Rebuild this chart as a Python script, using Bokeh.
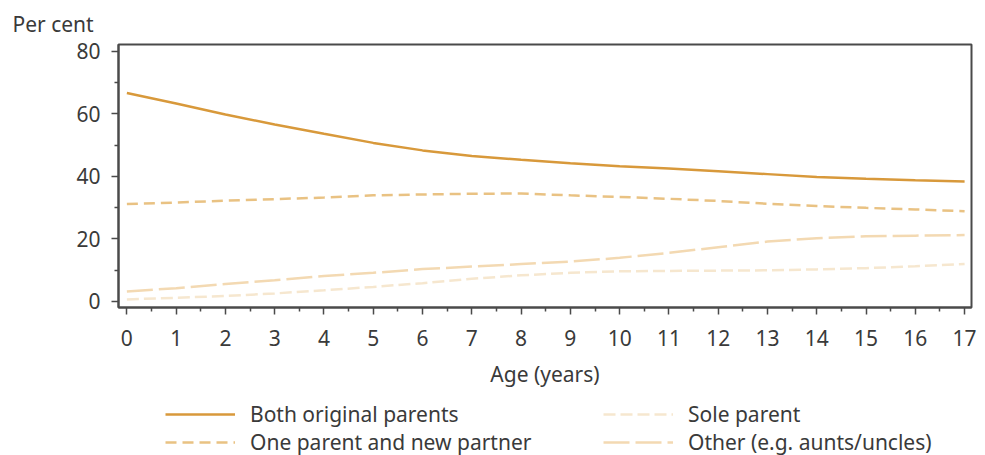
from bokeh.plotting import figure
from bokeh.models import Range1d, FixedTicker, Legend, LegendItem
from bokeh.layouts import column
from bokeh.embed import file_html
from bokeh.resources import INLINE

# ---- data ----
ages = list(range(0, 18))
both_original = [66.7, 63.3, 59.8, 56.6, 53.6, 50.7, 48.3, 46.5, 45.3, 44.2, 43.2, 42.5, 41.6, 40.7, 39.8, 39.2, 38.7, 38.3]
one_parent_new_partner = [31.1, 31.6, 32.2, 32.7, 33.2, 33.9, 34.2, 34.4, 34.5, 33.9, 33.4, 32.8, 32.1, 31.2, 30.5, 29.9, 29.4, 28.8]
sole_parent = [0.6, 1.1, 1.7, 2.5, 3.5, 4.6, 5.8, 7.2, 8.3, 9.1, 9.6, 9.7, 9.8, 9.9, 10.2, 10.6, 11.2, 11.9]
other = [3.1, 4.2, 5.5, 6.7, 8.1, 9.1, 10.3, 11.1, 11.9, 12.7, 13.9, 15.5, 17.3, 19.1, 20.2, 20.8, 21.0, 21.2]
y_ticks = [0, 20, 40, 60, 80]
y_minor = [10, 30, 50, 70]
x_ticks = list(range(0, 18))
x_minor = [a + 0.5 for a in range(0, 17)]

labels = ["Both original parents", "One parent and new partner", "Sole parent", "Other (e.g. aunts/uncles)"]

FONT = "Noto Sans"
TXT = "#3a3a3a"
AX = "#4a4a4a"
C_BOTH = "#d8993b"
C_ONE = "#e9c283"
C_OTHER = "#f3d9b2"
C_SOLE = "#f6e7cf"
STYLES = {
    "both": dict(line_color=C_BOTH, line_width=2.5),
    "one": dict(line_color=C_ONE, line_width=2.5, line_dash="11 6"),
    "sole": dict(line_color=C_SOLE, line_width=2.5, line_dash="12 5"),
    "other": dict(line_color=C_OTHER, line_width=2.5, line_dash="26 6"),
}

# ---- main chart ----
p = figure(width=985, height=400, output_backend="svg", toolbar_location=None,
           x_range=Range1d(-0.17, 17.14), y_range=Range1d(-2, 82.2),
           min_border_left=118, min_border_right=14, min_border_top=43, min_border_bottom=93)

p.grid.visible = False
p.outline_line_color = AX
p.outline_line_width = 2
p.background_fill_color = "white"
p.border_fill_color = "white"

p.title.text = "Per cent"
p.title.align = "left"
p.title.offset = -106
p.title.text_font = FONT
p.title.text_font_size = "21px"
p.title.text_font_style = "normal"
p.title.text_color = TXT
p.title.standoff = 14

for ax in (p.xaxis[0], p.yaxis[0]):
    ax.axis_line_color = AX
    ax.axis_line_width = 2
    ax.major_tick_line_color = AX
    ax.minor_tick_line_color = AX
    ax.major_tick_line_width = 1.5
    ax.minor_tick_line_width = 1.5
    ax.major_tick_in = 0
    ax.minor_tick_in = 0
    ax.major_label_text_font = FONT
    ax.major_label_text_font_size = "21px"
    ax.major_label_text_color = TXT

p.yaxis[0].ticker = FixedTicker(ticks=y_ticks, minor_ticks=y_minor)
p.yaxis[0].major_tick_out = 7
p.yaxis[0].minor_tick_out = 4
p.yaxis[0].major_label_standoff = 11

p.xaxis[0].ticker = FixedTicker(ticks=x_ticks, minor_ticks=x_minor)
p.xaxis[0].major_tick_out = 7
p.xaxis[0].minor_tick_out = 4
p.xaxis[0].major_label_standoff = 15
p.xaxis[0].axis_label = "Age (years)"
p.xaxis[0].axis_label_text_font = FONT
p.xaxis[0].axis_label_text_font_size = "21px"
p.xaxis[0].axis_label_text_font_style = "normal"
p.xaxis[0].axis_label_text_color = TXT
p.xaxis[0].axis_label_standoff = 11

p.line(ages, sole_parent, **STYLES["sole"])
p.line(ages, other, **STYLES["other"])
p.line(ages, one_parent_new_partner, **STYLES["one"])
p.line(ages, both_original, **STYLES["both"])

# ---- legend strip (same series; its view range keeps the lines out of sight) ----
q = figure(width=985, height=55, output_backend="svg", toolbar_location=None,
           x_range=Range1d(100, 101), y_range=Range1d(0, 1),
           x_axis_type=None, y_axis_type=None,
           min_border_left=0, min_border_right=0, min_border_top=0, min_border_bottom=0)
q.grid.visible = False
q.outline_line_color = None
q.background_fill_color = "white"
q.border_fill_color = "white"

l_both = q.line(ages, both_original, **STYLES["both"])
l_one = q.line(ages, one_parent_new_partner, **STYLES["one"])
l_sole = q.line(ages, sole_parent, **STYLES["sole"])
l_other = q.line(ages, other, **STYLES["other"])

def add_legend(items, loc):
    lg = Legend(items=items, location=loc, orientation="vertical",
                padding=0, margin=0, spacing=0, border_line_color=None,
                background_fill_alpha=0, glyph_width=70, glyph_height=20,
                label_height=20, label_standoff=15,
                label_text_font=FONT, label_text_font_size="21px", label_text_color=TXT)
    q.add_layout(lg, "center")

add_legend([LegendItem(label=labels[0], renderers=[l_both]),
            LegendItem(label=labels[1], renderers=[l_one])], (47, -1))
add_legend([LegendItem(label=labels[2], renderers=[l_sole]),
            LegendItem(label=labels[3], renderers=[l_other])], (485, -1))

open("out.html", "w").write(file_html(column(p, q, spacing=0), INLINE))
